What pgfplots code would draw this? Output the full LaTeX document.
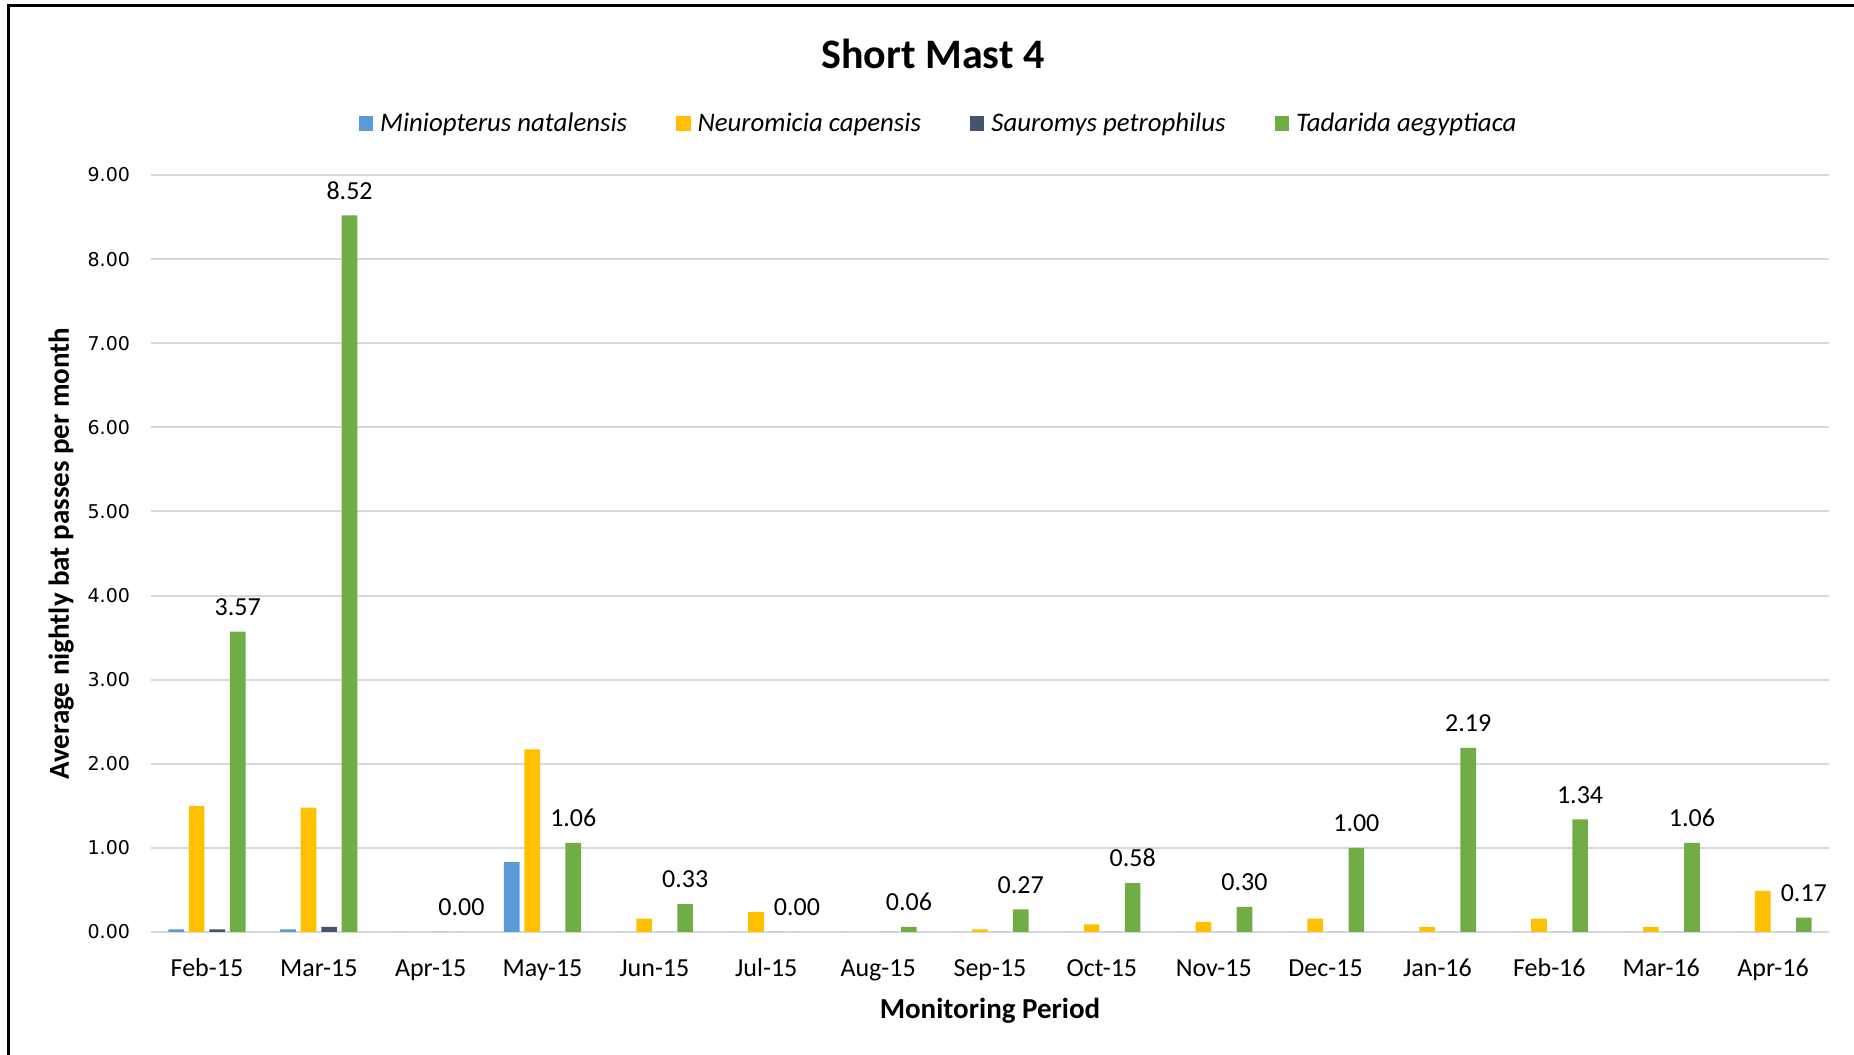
\documentclass[border=0pt]{standalone}
\usepackage{fontspec}
\setmainfont{Carlito}
\newfontfamily\dejavu{DejaVu Sans}
\usepackage{pgfplots}
\pgfplotsset{compat=1.18}
\definecolor{mblue}{HTML}{5B9BD5}
\definecolor{myellow}{HTML}{FFC000}
\definecolor{mdark}{HTML}{44546A}
\definecolor{mgreen}{HTML}{70AD47}
\definecolor{gridgray}{HTML}{D9D9D9}

\begin{document}
\begin{tikzpicture}
\path[use as bounding box] (0,0) rectangle (927pt,527.5pt);
\draw[black, line width=1.3pt] (4.3pt,0) -- (4.3pt,524.6pt) -- (927pt,524.6pt);
\begin{axis}[at={(75.5pt,61.5pt)}, anchor=south west,
  width=839pt, height=378.5pt, scale only axis,
  xmin=-0.5, xmax=14.5, ymin=0, ymax=9,
  ybar, bar width=0.14,
  xtick={0,...,14},
  xticklabels={Feb-15,Mar-15,Apr-15,May-15,Jun-15,Jul-15,Aug-15,Sep-15,Oct-15,Nov-15,Dec-15,Jan-16,Feb-16,Mar-16,Apr-16},
  ytick={0,...,9},
  yticklabel={\pgfmathprintnumber[fixed,fixed zerofill,precision=2]{\tick}},
  /pgf/number format/assume math mode=true,
  axis x line*=bottom, axis y line*=left,
  x axis line style={draw=gridgray, line width=1.2pt, -},
  y axis line style={draw=none},
  major tick length=0pt,
  ymajorgrids, grid style={draw=gridgray, line width=1pt},
  xticklabel style={font=\fontsize{13}{15}\selectfont, text height=10pt, text depth=3pt, yshift=-8.6pt},
  yticklabel style={font=\dejavu\fontsize{9.5}{11}\selectfont, xshift=-7pt},
  title={Short Mast 4},
  title style={at={(axis description cs:0.5,1)}, anchor=center, xshift=-28.5pt, yshift=54.5pt, font=\bfseries\fontsize{21}{24}\selectfont},
  xlabel={Monitoring Period},
  ylabel={Average nightly bat passes per month},
  every axis x label/.style={at={(axis description cs:0.5,0)}, anchor=center, yshift=-39.5pt, font=\bfseries\fontsize{14.5}{17}\selectfont},
  every axis y label/.style={at={(axis description cs:-0.0536,0.5)}, anchor=center, rotate=90, font=\bfseries\fontsize{14.5}{17}\selectfont},
  legend columns=4,
  legend style={at={(axis description cs:0.47,1.068)}, anchor=center, draw=none, fill=none,
    font=\itshape\fontsize{13.4}{15}\selectfont,
    /tikz/every even column/.append style={column sep=22.5pt},
    /tikz/every odd column/.append style={column sep=1.5pt}},
  legend image code/.code={\fill[#1] (0pt,-3.6pt) rectangle (7.2pt,3.6pt);},
]
\addplot[fill=mblue, draw=none, bar shift=-0.275] coordinates {(0,0.03) (1,0.03) (2,0) (3,0.83) (4,0) (5,0) (6,0) (7,0) (8,0) (9,0) (10,0) (11,0) (12,0) (13,0) (14,0)};
\addlegendentry{Miniopterus natalensis}
\addplot[fill=myellow, draw=none, bar shift=-0.092] coordinates {(0,1.50) (1,1.48) (2,0) (3,2.17) (4,0.16) (5,0.24) (6,0) (7,0.03) (8,0.09) (9,0.12) (10,0.16) (11,0.06) (12,0.16) (13,0.06) (14,0.49)};
\addlegendentry{Neuromicia capensis}
\addplot[fill=mdark, draw=none, bar shift=0.092] coordinates {(0,0.03) (1,0.06) (2,0) (3,0) (4,0) (5,0) (6,0) (7,0) (8,0) (9,0) (10,0) (11,0) (12,0) (13,0) (14,0)};
\addlegendentry{Sauromys petrophilus}
\addplot[fill=mgreen, draw=none, bar shift=0.275,
  nodes near coords={\pgfmathprintnumber[fixed,fixed zerofill,precision=2]{\pgfplotspointmeta}},
  every node near coord/.append style={font=\fontsize{13}{15}\selectfont, text=black, yshift=4.5pt}] coordinates {(0,3.57) (1,8.52) (2,0.00) (3,1.06) (4,0.33) (5,0.00) (6,0.06) (7,0.27) (8,0.58) (9,0.30) (10,1.00) (11,2.19) (12,1.34) (13,1.06) (14,0.17)};
\addlegendentry{Tadarida aegyptiaca}
\end{axis}
\end{tikzpicture}
\end{document}
